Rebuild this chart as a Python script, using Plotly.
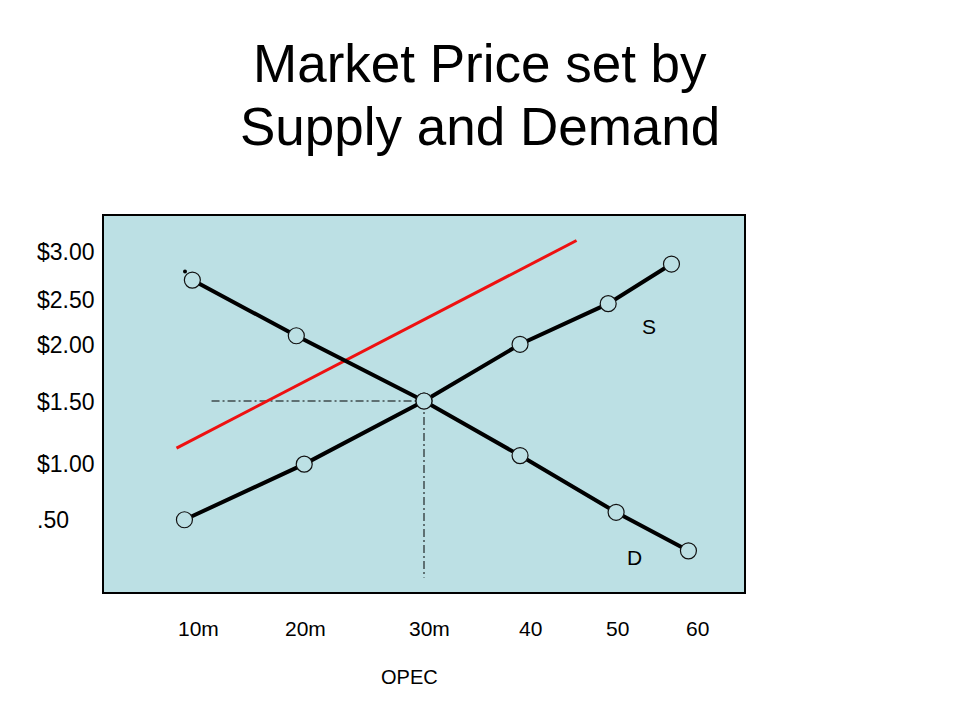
import plotly.graph_objects as go

# ---- data (quantity in millions, price in $) ----
demand_q = [9.5, 18.7, 30.0, 38.5, 47.0, 53.4]
demand_p = [2.63, 2.11, 1.50, 0.99, 0.46, 0.10]
supply_q = [8.8, 19.4, 30.0, 38.5, 46.3, 51.9]
supply_p = [0.39, 0.91, 1.50, 2.03, 2.41, 2.78]
new_supply_q = [8.1, 43.5]
new_supply_p = [1.06, 3.00]
equilibrium_q = 30.0
equilibrium_p = 1.50
guide_start_q = 11.2
guide_floor_p = -0.15
stray_dot_q = [8.85]
stray_dot_p = [2.71]

title_lines = ["Market Price set by", "Supply and Demand"]
x_tick_labels = ["10m", "20m", "30m", "40", "50", "60"]
x_tick_pos = [10.0, 19.5, 30.5, 39.4, 47.1, 54.2]
y_tick_labels = ["$3.00", "$2.50", "$2.00", "$1.50", "$1.00", ".50"]
y_tick_pos = [2.89, 2.44, 2.02, 1.49, 0.91, 0.39]

BG = "#BCE0E4"
FONT = "Liberation Sans, Arial, sans-serif"
OFF = 8  # page body margin

fig = go.Figure()

# guides (dash-dot)
fig.add_trace(go.Scatter(x=[guide_start_q, equilibrium_q], y=[equilibrium_p, equilibrium_p],
                         mode="lines", line=dict(color="black", width=1, dash="8px,3px,2px,3px"),
                         hoverinfo="skip", showlegend=False))
fig.add_trace(go.Scatter(x=[equilibrium_q, equilibrium_q], y=[equilibrium_p, guide_floor_p],
                         mode="lines", line=dict(color="black", width=1, dash="8px,3px,2px,3px"),
                         hoverinfo="skip", showlegend=False))

# new supply (red)
fig.add_trace(go.Scatter(x=new_supply_q, y=new_supply_p, mode="lines",
                         line=dict(color="#EE1111", width=3), showlegend=False))

# demand & supply lines
fig.add_trace(go.Scatter(x=demand_q, y=demand_p, mode="lines",
                         line=dict(color="black", width=4), showlegend=False))
fig.add_trace(go.Scatter(x=supply_q, y=supply_p, mode="lines",
                         line=dict(color="black", width=4), showlegend=False))

# circles
marker = dict(size=16, color=BG, line=dict(color="#111111", width=1.2))
fig.add_trace(go.Scatter(x=demand_q, y=demand_p, mode="markers", marker=marker, showlegend=False))
fig.add_trace(go.Scatter(x=supply_q, y=supply_p, mode="markers", marker=marker, showlegend=False))
fig.add_trace(go.Scatter(x=stray_dot_q, y=stray_dot_p, mode="markers",
                         marker=dict(size=4, color="black"), showlegend=False))

# axis geometry (page pixels)
PL, PR, PT, PB = 104, 744, 216, 592
px_per_q = 11.3
px_per_p = 107.0
eq_px_x, eq_px_y = 424, 401
x_range = [equilibrium_q - (eq_px_x - PL) / px_per_q, equilibrium_q + (PR - eq_px_x) / px_per_q]
y_range = [equilibrium_p - (PB - eq_px_y) / px_per_p, equilibrium_p + (eq_px_y - PT) / px_per_p]
plot_h = PB - PT
plot_w = PR - PL

annotations = []
for lab, pos in zip(x_tick_labels, x_tick_pos):
    annotations.append(dict(x=pos, y=-0.096, xref="x", yref="paper", text=lab, showarrow=False,
                            xanchor="center", yanchor="middle",
                            font=dict(family=FONT, size=21, color="black")))
for lab, pos in zip(y_tick_labels, y_tick_pos):
    annotations.append(dict(x=-0.1078, y=pos, xref="paper", yref="y", text=lab, showarrow=False,
                            xanchor="left", yanchor="middle",
                            font=dict(family=FONT, size=23, color="black")))
annotations.append(dict(x=0.478, y=-0.226, xref="paper", yref="paper", text="OPEC", showarrow=False,
                        xanchor="center", yanchor="middle", font=dict(family=FONT, size=20, color="black")))
annotations.append(dict(x=supply_q[-1] - 2.0, y=supply_p[-1] - 0.58, xref="x", yref="y", text="S",
                        showarrow=False, xanchor="center", yanchor="middle",
                        font=dict(family=FONT, size=21, color="black")))
annotations.append(dict(x=demand_q[-1] - 4.8, y=demand_p[-1] - 0.06, xref="x", yref="y", text="D",
                        showarrow=False, xanchor="center", yanchor="middle",
                        font=dict(family=FONT, size=21, color="black")))
# title lines (page y of each line centre)
for line, py in zip(title_lines, [63, 126]):
    annotations.append(dict(x=(480 - PL) / plot_w, y=1 + (PT - py) / plot_h, xref="paper", yref="paper",
                            text=line, showarrow=False, xanchor="center", yanchor="middle",
                            font=dict(family=FONT, size=53, color="black")))

W, H = 960, 720
fig.update_layout(
    width=W, height=H,
    margin=dict(l=PL - OFF, r=W - (PR - OFF), t=PT - OFF, b=H - (PB - OFF)),
    paper_bgcolor="white", plot_bgcolor=BG,
    xaxis=dict(range=x_range, showgrid=False, zeroline=False, showticklabels=False, ticks="",
               showline=True, mirror=True, linecolor="black", linewidth=1.5),
    yaxis=dict(range=y_range, showgrid=False, zeroline=False, showticklabels=False, ticks="",
               showline=True, mirror=True, linecolor="black", linewidth=1.5),
    annotations=annotations,
    hovermode=False,
)

fig.write_html("out.html")
